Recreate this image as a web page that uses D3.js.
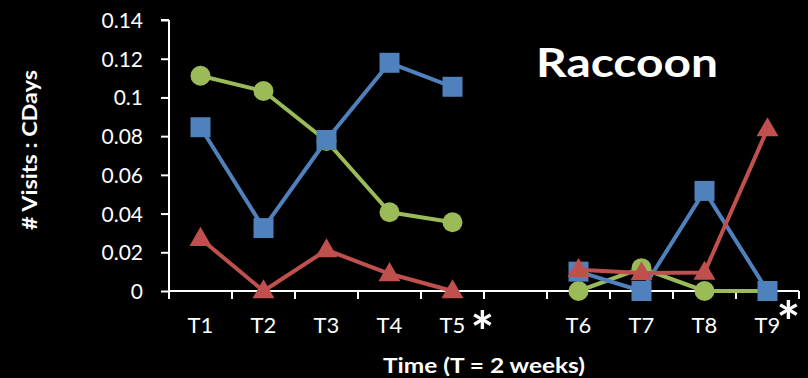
<!DOCTYPE html>
<html>
<head>
<meta charset="utf-8">
<script src="https://cdn.jsdelivr.net/npm/d3@7"></script>
<style>
  html, body { margin: 0; padding: 0; background: #000; }
  svg { display: block; }
  text { font-family: Lato, "Open Sans", sans-serif; fill: #fff; }
</style>
</head>
<body>
<svg id="chart" width="808" height="378"></svg>
<script>
// ---- data ----
const categories = ["T1", "T2", "T3", "T4", "T5", "", "T6", "T7", "T8", "T9"];
const greenValues = [0.1112, 0.1033, 0.0775, 0.0407, 0.0355, null, 0, 0.0118, 0, 0];
const blueValues  = [0.0846, 0.0325, 0.078, 0.1179, 0.1055, null, 0.0100, 0, 0.0517, 0];
const redValues   = [0.0271, 0, 0.0212, 0.0089, 0, null, 0.0110, 0.0093, 0.0096, 0.0837];
const yTicks = [0, 0.02, 0.04, 0.06, 0.08, 0.1, 0.12, 0.14];
const yTickLabels = ["0", "0.02", "0.04", "0.06", "0.08", "0.1", "0.12", "0.14"];
const starredCategories = ["T5", "T9"];
const chartTitle = "Raccoon";
const xTitle = "Time (T = 2 weeks)";
const yTitle = "# Visits : CDays";

// ---- layout ----
const svg = d3.select("#chart");
const plot = { left: 169, right: 799, top: 20, bottom: 291 };

const x = d3.scaleBand().domain(d3.range(categories.length)).range([plot.left, plot.right]).padding(0);
const y = d3.scaleLinear().domain([0, 0.14]).range([plot.bottom, plot.top]);
const cx = i => x(i) + x.bandwidth() / 2;

const axisColor = "#ffffff";

// y axis
const yAxis = d3.axisLeft(y).tickValues(yTicks).tickSize(8).tickFormat((d, i) => yTickLabels[i]);
const gy = svg.append("g").attr("transform", `translate(${plot.left},0)`).call(yAxis);
gy.select(".domain").attr("stroke", axisColor).attr("stroke-width", 2).attr("d", `M0,${plot.top}H-8M0,${plot.top}V${plot.bottom}`);
gy.selectAll(".tick line").attr("stroke", axisColor).attr("stroke-width", 2);
gy.selectAll(".tick text").attr("fill", "#fff").attr("x", -26).attr("dy", "0.36em")
  .style("font-size", "21px").style("font-family", "Lato, 'Open Sans', sans-serif");

// x axis (ticks on category boundaries)
const gx = svg.append("g");
gx.append("line").attr("x1", plot.left).attr("x2", plot.right).attr("y1", y(0)).attr("y2", y(0))
  .attr("stroke", axisColor).attr("stroke-width", 2);
const boundaries = d3.range(categories.length + 1).map(i => i < categories.length ? x(i) : x(categories.length - 1) + x.bandwidth());
gx.selectAll("line.xt").data(boundaries).join("line").attr("class", "xt")
  .attr("x1", d => d).attr("x2", d => d).attr("y1", y(0)).attr("y2", y(0) + 8)
  .attr("stroke", axisColor).attr("stroke-width", 2);
gx.selectAll("text.xl").data(categories).join("text").attr("class", "xl")
  .attr("x", (d, i) => cx(i)).attr("y", 333).attr("text-anchor", "middle")
  .style("font-size", "22px").text(d => d);

// asterisks
const starOffsets = { "T5": [30, 352], "T9": [21, 342] };
svg.selectAll("text.star").data(starredCategories).join("text").attr("class", "star")
  .attr("x", d => cx(categories.indexOf(d)) + starOffsets[d][0])
  .attr("y", d => starOffsets[d][1])
  .attr("text-anchor", "middle").style("font-size", "56px").style("font-weight", "bold").text("*");

// series
const series = [
  { name: "green", values: greenValues, color: "#9BBB59", marker: "circle" },
  { name: "blue", values: blueValues, color: "#4F81BD", marker: "square" },
  { name: "red", values: redValues, color: "#C0504D", marker: "triangle" }
];

const line = d3.line().defined(d => d.v !== null).x(d => cx(d.i)).y(d => y(d.v));
const symbolMap = { circle: d3.symbolCircle, square: d3.symbolSquare, triangle: d3.symbolTriangle };
const symbolSize = { circle: Math.PI * 10 * 10, square: 20 * 20, triangle: 210 };

series.forEach(s => {
  const pts = s.values.map((v, i) => ({ i, v }));
  const g = svg.append("g");
  g.append("path").datum(pts).attr("d", line).attr("fill", "none")
    .attr("stroke", s.color).attr("stroke-width", 4).attr("stroke-linejoin", "round");
  const sym = d3.symbol().type(symbolMap[s.marker]).size(symbolSize[s.marker]);
  g.selectAll("path.m").data(pts.filter(d => d.v !== null)).join("path").attr("class", "m")
    .attr("transform", d => `translate(${cx(d.i)},${y(d.v) + (s.marker === "triangle" ? 1 : 0)})`)
    .attr("d", sym()).attr("fill", s.color);
});

// titles
function fit(sel, w) {
  const len = sel.node().getComputedTextLength();
  if (len > 0) sel.attr("textLength", w).attr("lengthAdjust", "spacingAndGlyphs");
}
const t = svg.append("text").attr("x", 627).attr("y", 77).attr("text-anchor", "middle")
  .style("font-size", "41px").style("font-weight", "bold").text(chartTitle);
fit(t, 182);
const xt = svg.append("text").attr("x", 484).attr("y", 373).attr("text-anchor", "middle")
  .style("font-size", "21px").style("font-weight", "bold").text(xTitle);
fit(xt, 202);
const yt = svg.append("text").attr("transform", "translate(37,150) rotate(-90)").attr("text-anchor", "middle")
  .style("font-size", "21px").style("font-weight", "bold").text(yTitle);
fit(yt, 160);
</script>
</body>
</html>
